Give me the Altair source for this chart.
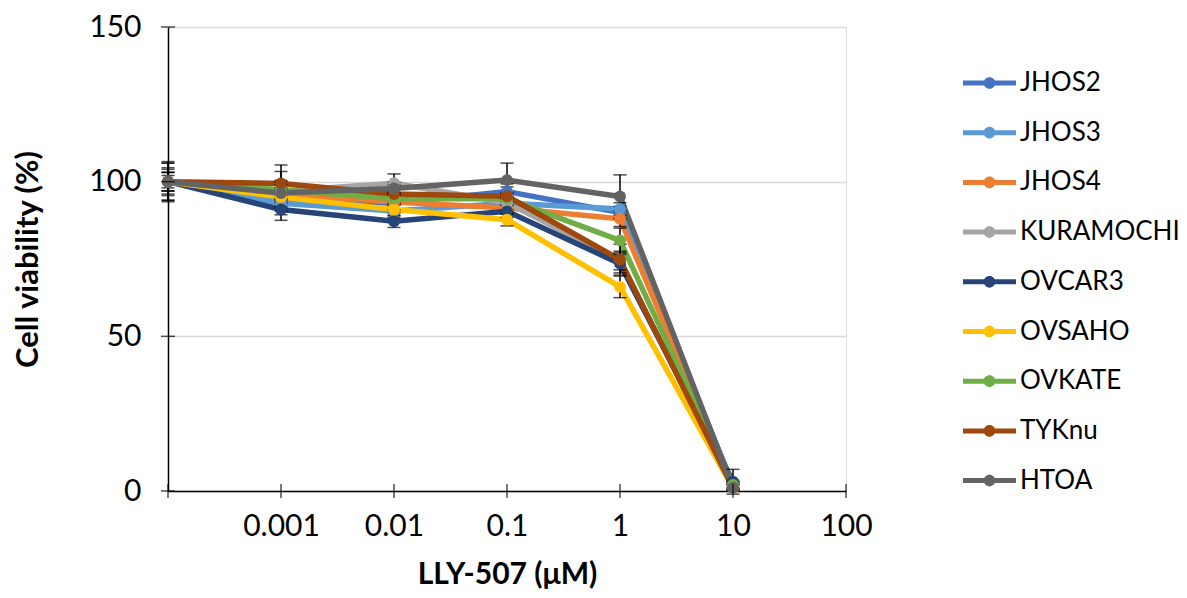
import altair as alt
import pandas as pd
import json

# ---- data ----
doses = [0.0001, 0.001, 0.01, 0.1, 1, 10]
series = ["JHOS2", "JHOS3", "JHOS4", "KURAMOCHI", "OVCAR3", "OVSAHO", "OVKATE", "TYKnu", "HTOA"]
colors = ["#4472C4", "#5B9BD5", "#ED7D31", "#A5A5A5", "#264478", "#FFC000", "#70AD47", "#9E480E", "#636363"]

jhos2 = [100, 94.5, 93.0, 96.8, 90.0, 2.0]
jhos3 = [100, 93.0, 90.5, 93.0, 91.2, 2.0]
jhos4 = [100, 96.0, 93.4, 91.5, 88.0, 1.5]
kuramochi = [100, 97.0, 99.5, 93.2, 74.5, 1.5]
ovcar3 = [100, 91.0, 87.2, 90.4, 73.5, 3.0]
ovsaho = [100, 95.0, 91.0, 87.7, 66.0, 1.0]
ovkate = [100, 97.4, 94.5, 94.5, 81.0, 2.0]
tyknu = [100, 99.4, 96.0, 95.3, 74.8, 1.0]
htoa = [100, 96.3, 97.8, 100.5, 95.2, 1.0]

jhos2_err = [4.0, 3.0, 3.0, 2.5, 2.0, 1.5]
jhos3_err = [3.0, 2.5, 2.0, 2.0, 2.0, 1.0]
jhos4_err = [4.5, 3.0, 2.5, 2.0, 2.5, 1.0]
kuramochi_err = [3.0, 3.0, 3.0, 3.0, 3.0, 1.0]
ovcar3_err = [3.0, 3.5, 2.0, 2.0, 3.0, 4.0]
ovsaho_err = [2.0, 3.0, 2.0, 2.0, 3.5, 1.0]
ovkate_err = [6.0, 3.0, 2.0, 2.0, 4.0, 1.0]
tyknu_err = [6.0, 6.0, 3.0, 3.0, 5.0, 1.0]
htoa_err = [6.5, 7.0, 2.0, 5.5, 7.0, 1.0]

x_tick_values = [0.0001, 0.001, 0.01, 0.1, 1, 10, 100]
x_tick_labels = ["", "0.001", "0.01", "0.1", "1", "10", "100"]
y_tick_values = [0, 50, 100, 150]

values = [jhos2, jhos3, jhos4, kuramochi, ovcar3, ovsaho, ovkate, tyknu, htoa]
errors = [jhos2_err, jhos3_err, jhos4_err, kuramochi_err, ovcar3_err, ovsaho_err, ovkate_err, tyknu_err, htoa_err]

rows = []
for s, vals, errs in zip(series, values, errors):
    for d, v, e in zip(doses, vals, errs):
        rows.append({"series": s, "dose": d, "viability": v, "lo": v - e, "hi": v + e})
df = pd.DataFrame(rows)

FONT = "Lato"

label_expr = "{}[indexof({}, datum.value)]".format(json.dumps(x_tick_labels), json.dumps(x_tick_values))

x_scale = alt.Scale(type="log", domain=[x_tick_values[0], x_tick_values[-1]], nice=False)
y_scale = alt.Scale(domain=[y_tick_values[0], y_tick_values[-1]], nice=False)

x_enc = alt.X("dose:Q", scale=x_scale,
              axis=alt.Axis(values=x_tick_values, labelExpr=label_expr, title="LLY-507 (μM)",
                            grid=False, ticks=False, labelPadding=20, labelFontSize=30,
                            labelFont=FONT, labelColor="#000000", titleFont=FONT, titleFontSize=30,
                            titleFontWeight="bold", titleColor="#000000", titlePadding=18,
                            domainColor="#000000", domainWidth=1.5, labelFlush=False))
y_enc = alt.Y("viability:Q", scale=y_scale,
              axis=alt.Axis(values=y_tick_values, title="Cell viability (%)", grid=True,
                            gridColor="#D9D9D9", gridWidth=1.5, ticks=False, labelPadding=27,
                            labelFontSize=30, labelFont=FONT, labelColor="#000000",
                            titleFont=FONT, titleFontSize=31, titleFontWeight="bold",
                            titleColor="#000000", titlePadding=44, domainColor="#000000",
                            domainWidth=1.5))

legend_symbol = ("M-1,-0.095 L1,-0.095 L1,0.095 L-1,0.095 Z "
                 "M-0.22,0 A0.22,0.22 0 1,1 0.22,0 A0.22,0.22 0 1,1 -0.22,0 Z")
legend = alt.Legend(title=None, orient="none", legendX=795, legendY=41,
                    symbolType=legend_symbol, symbolSize=2809, symbolStrokeWidth=0,
                    labelFont=FONT, labelFontSize=26, labelColor="#000000", labelOffset=4,
                    clipHeight=30, rowPadding=19.7, labelLimit=400)
color_enc = alt.Color("series:N", scale=alt.Scale(domain=series, range=colors),
                      sort=series, legend=legend)

base = alt.Chart(df)

lines = base.mark_line(strokeWidth=5.5).encode(x=x_enc, y=y_enc, color=color_enc,
                                                order=alt.Order("dose:Q"))
rules = base.mark_rule(color="#000000", strokeWidth=1.5).encode(x="dose:Q", y="lo:Q", y2="hi:Q")
caps_lo = base.mark_tick(color="#000000", orient="horizontal", size=13, thickness=1.5).encode(
    x="dose:Q", y="lo:Q")
caps_hi = base.mark_tick(color="#000000", orient="horizontal", size=13, thickness=1.5).encode(
    x="dose:Q", y="hi:Q")
points = base.mark_circle(size=140, opacity=1).encode(x="dose:Q", y="viability:Q",
                                                      color=color_enc)

ytick_df = pd.DataFrame({"v": y_tick_values, "x0": [x_tick_values[0]] * len(y_tick_values)})
xtick_df = pd.DataFrame({"v": x_tick_values, "y0": [y_tick_values[0]] * len(x_tick_values)})
yticks = alt.Chart(ytick_df).mark_tick(color="#000000", orient="horizontal", size=14,
                                       thickness=1.5).encode(x="x0:Q", y="v:Q")
xticks = alt.Chart(xtick_df).mark_tick(color="#000000", orient="vertical", size=14,
                                       thickness=1.5).encode(x="v:Q", y="y0:Q")

chart = alt.layer(lines, rules, caps_lo, caps_hi, points, yticks, xticks).properties(
    width=678, height=464,
    autosize=alt.AutoSizeParams(type="none"),
    padding={"left": 160, "top": 19, "right": 333, "bottom": 99},
).configure_view(stroke=None).configure(background="#FFFFFF")

chart.save("out.html", embed_options={"renderer": "svg", "actions": False})
